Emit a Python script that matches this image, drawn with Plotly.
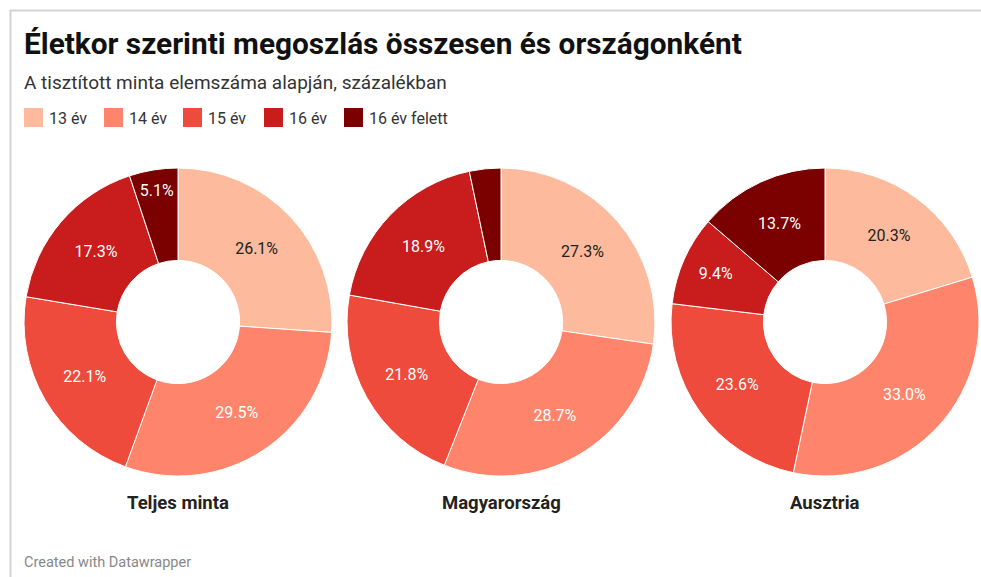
import plotly.graph_objects as go

categories = ["13 év", "14 év", "15 év", "16 év", "16 év felett"]
colors = ["#fdba9c", "#fe856b", "#ef4b3c", "#c81c1d", "#7b0000"]
groups = ["Teljes minta", "Magyarország", "Ausztria"]
teljes = [26.1, 29.5, 22.1, 17.3, 5.1]
magyar = [27.3, 28.7, 21.8, 18.9, 3.3]
ausztria = [20.3, 33.0, 23.6, 9.4, 13.7]
show_label = [
    [True, True, True, True, True],
    [True, True, True, True, False],
    [True, True, True, True, True],
]

W, H = 981, 577
centers_x = [178, 501, 825]
center_y = 322
radius = 154

fig = go.Figure()
for i, vals in enumerate([teljes, magyar, ausztria]):
    cx = centers_x[i]
    texts = [f"{v:.1f}%" if s else "" for v, s in zip(vals, show_label[i])]
    fcolors = ["#222222"] + ["#ffffff"] * 4
    fig.add_trace(go.Pie(
        labels=categories, values=vals, sort=False, direction="clockwise",
        rotation=0, hole=0.4, text=texts, textinfo="text",
        textposition="inside", insidetextorientation="horizontal",
        textfont=dict(family="Roboto", size=16, color=fcolors),
        marker=dict(colors=colors, line=dict(color="#ffffff", width=1)),
        domain=dict(x=[(cx - radius) / W, (cx + radius) / W],
                    y=[1 - (center_y + radius) / H, 1 - (center_y - radius) / H]),
        showlegend=False, hoverinfo="label+percent",
    ))
    fig.add_annotation(text=f"<b>{groups[i]}</b>", x=cx / W, y=1 - 503 / H,
                       xref="paper", yref="paper", showarrow=False,
                       xanchor="center", yanchor="middle",
                       font=dict(family="Roboto", size=18.5, color="#222222"))

# title / subtitle
fig.add_annotation(text="<b>Életkor szerinti megoszlás összesen és országonként</b>",
                   x=22 / W, y=1 - 43 / H, xref="paper", yref="paper",
                   xanchor="left", yanchor="middle", showarrow=False,
                   font=dict(family="Roboto", size=29.8, color="#111111"))
fig.add_annotation(text="A tisztított minta elemszáma alapján, százalékban",
                   x=22 / W, y=1 - 82 / H, xref="paper", yref="paper",
                   xanchor="left", yanchor="middle", showarrow=False,
                   font=dict(family="Roboto", size=19, color="#333333"))

# legend
leg_x = [24, 104, 183, 264, 344]
for k, (cat, col) in enumerate(zip(categories, colors)):
    x0 = leg_x[k]
    fig.add_shape(type="rect", xref="paper", yref="paper",
                  x0=x0 / W, x1=(x0 + 19) / W, y0=1 - 127 / H, y1=1 - 108 / H,
                  fillcolor=col, line=dict(width=0))
    fig.add_annotation(text=cat, x=(x0 + 23) / W, y=1 - 118 / H, xref="paper", yref="paper",
                       xanchor="left", yanchor="middle", showarrow=False,
                       font=dict(family="Roboto", size=16, color="#333333"))

fig.add_annotation(text="Created with Datawrapper", x=22 / W, y=1 - 562 / H,
                   xref="paper", yref="paper", xanchor="left", yanchor="middle",
                   showarrow=False, font=dict(family="Roboto", size=14.5, color="#888888"))

# frame lines
fig.add_shape(type="line", xref="paper", yref="paper", x0=10 / W, x1=1, y0=1 - 10.5 / H, y1=1 - 10.5 / H,
              line=dict(color="#d3d3d3", width=2))
fig.add_shape(type="line", xref="paper", yref="paper", x0=10.5 / W, x1=10.5 / W, y0=0, y1=1 - 10 / H,
              line=dict(color="#d3d3d3", width=2))

fig.update_layout(width=W, height=H, margin=dict(l=0, r=0, t=0, b=0),
                  paper_bgcolor="#ffffff", plot_bgcolor="#ffffff",
                  uniformtext=dict(minsize=16, mode="show"))
fig.write_html("out.html", config={"displayModeBar": False},
               post_script="document.body.style.margin='0';document.body.style.overflow='hidden';")
